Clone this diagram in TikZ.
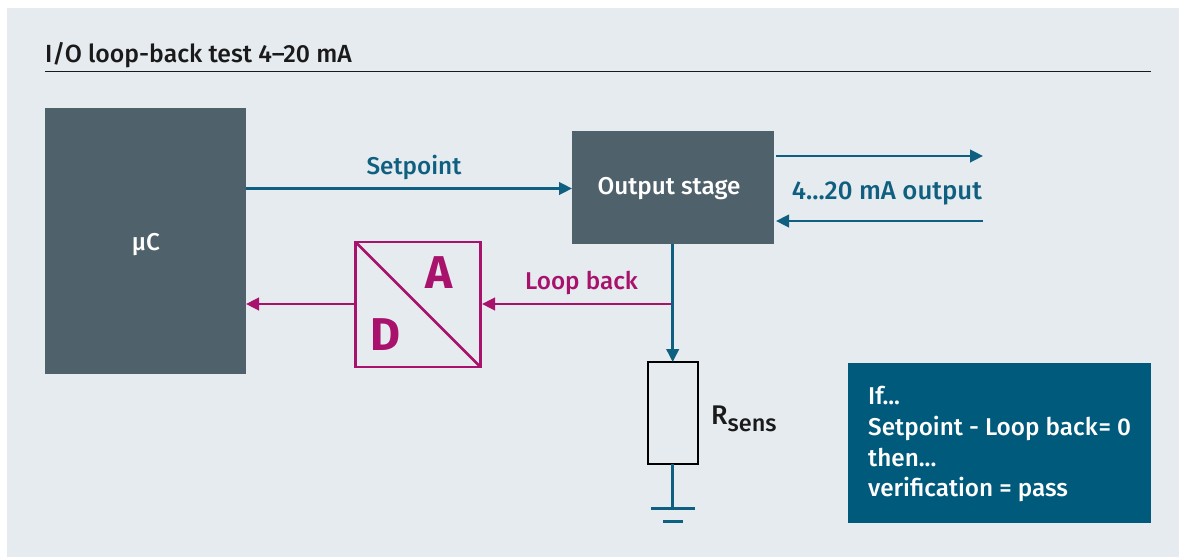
\documentclass[tikz,border=0pt]{standalone}
\usepackage{fontspec}
\setmainfont{Fira Sans}
\newfontfamily\medfont{Fira Sans Medium}
\usetikzlibrary{arrows.meta}
\definecolor{panel}{HTML}{E6EBEF}
\definecolor{slate}{HTML}{4F626B}
\definecolor{teal}{HTML}{0F5F80}
\definecolor{boxteal}{HTML}{005A7C}
\definecolor{magenta}{HTML}{A8126C}
\definecolor{ink}{HTML}{1A1A1A}
\tikzset{
  x=1pt,y=-1pt,
  block/.style={fill=slate,draw=none,inner sep=0pt,outer sep=0pt,anchor=north west},
  tealline/.style={draw=teal,line width=2.6pt},
  magline/.style={draw=magenta,line width=2.6pt},
  tip/.style={-{Triangle[length=13pt,width=12.5pt]}},
  txt/.style={anchor=base,inner sep=0pt,font=\medfont\fontsize{24.3}{28}\selectfont},
  convletter/.style={anchor=base,text=magenta,inner sep=0pt,font=\bfseries\fontsize{46}{50}\selectfont},
}
\begin{document}
\begin{tikzpicture}
\useasboundingbox (0,0) rectangle (1179,557);
\fill[panel] (7,8) rectangle (1179,557);
\node[anchor=base west,inner sep=0pt,text=ink,font=\medfont\fontsize{24.8}{28}\selectfont] (title) at (45,62) {I/O loop-back test 4–20 mA};
\coordinate (ruleL) at (45,71.5);
\coordinate (ruleR) at (1151,71.5);
\draw[ink,line width=1pt] (ruleL) -- (ruleR);
% blocks
\node[block,minimum width=201pt,minimum height=266pt] (uc) at (45,108) {};
\node[txt,text=white] (uclabel) at (146,250) {µC};
\node[block,minimum width=202pt,minimum height=113pt] (stage) at (572,131) {};
\node[txt,text=white] (stagelabel) at (669,194) {Output stage};
% converter
\node[draw=magenta,line width=2.5pt,inner sep=0pt,outer sep=0pt,anchor=north west,minimum width=125pt,minimum height=125pt] (conv) at (355.5,242) {};
\draw[magline] (conv.north west) -- (conv.south east);
\node[convletter] (A) at (439.5,288) {A};
\node[convletter] (D) at (385.5,350) {D};
% resistor
\node[draw=black,line width=2.3pt,inner sep=0pt,outer sep=0pt,anchor=north west,minimum width=50pt,minimum height=102pt] (rs) at (648,362) {};
\node[anchor=base west,inner sep=0pt,text=ink,font=\medfont\fontsize{27}{31}\selectfont] (rslabel) at (711,424) {R\raisebox{-7.5pt}{\fontsize{23.5}{27}\selectfont sens}};
% connectors
\coordinate (setA) at (0,188.5);
\coordinate (outA) at (0,156);
\coordinate (outB) at (0,221);
\coordinate (outEndA) at (983,156);
\coordinate (outEndB) at (983,221);
\coordinate (loopY) at (0,304);
\coordinate (junction) at (672.7,304);
\coordinate (gnd) at (672.7,508.7);
\coordinate (gndAL) at (651,508.7);
\coordinate (gndAR) at (695,508.7);
\coordinate (gndBL) at (663,521.7);
\coordinate (gndBR) at (683,521.7);
\coordinate (stageOutA) at (776,156);
\coordinate (stageOutB) at (776,221);
\draw[tealline,tip] (uc.east |- setA) -- (stage.west |- setA);
\draw[tealline,tip] (stageOutA) -- (outEndA);
\draw[tealline,tip] (outEndB) -- (stageOutB);
\draw[magline,tip] (junction) -- ([xshift=1.5pt]conv.east |- loopY);
\draw[magline,tip] (conv.west |- loopY) -- (uc.east |- loopY);
\draw[tealline,tip] (stage.south -| junction) -- (rs.north -| junction);
\draw[tealline] (rs.south -| gnd) -- (gnd);
\draw[tealline] (gndAL) -- (gndAR);
\draw[tealline] (gndBL) -- (gndBR);
% labels
\node[txt,text=teal] (setlabel) at (414,174) {Setpoint};
\node[txt,text=teal,font=\medfont\fontsize{25.8}{29}\selectfont] (outlabel) at (887,199) {4...20 mA output};
\node[txt,text=magenta] (looplabel) at (581.5,289) {Loop back};
% info box
\node[fill=boxteal,inner sep=0pt,outer sep=0pt,anchor=north west,minimum width=303pt,minimum height=160pt] (info) at (848,363) {};
\node[txt,anchor=base west,text=white] (l1) at (868,404) {If...};
\node[txt,anchor=base west,text=white] (l2) at (868,435) {Setpoint - Loop back\kern1pt= 0};
\node[txt,anchor=base west,text=white] (l3) at (868,466) {then...};
\node[txt,anchor=base west,text=white] (l4) at (868,496) {verification = pass};
\end{tikzpicture}
\end{document}
